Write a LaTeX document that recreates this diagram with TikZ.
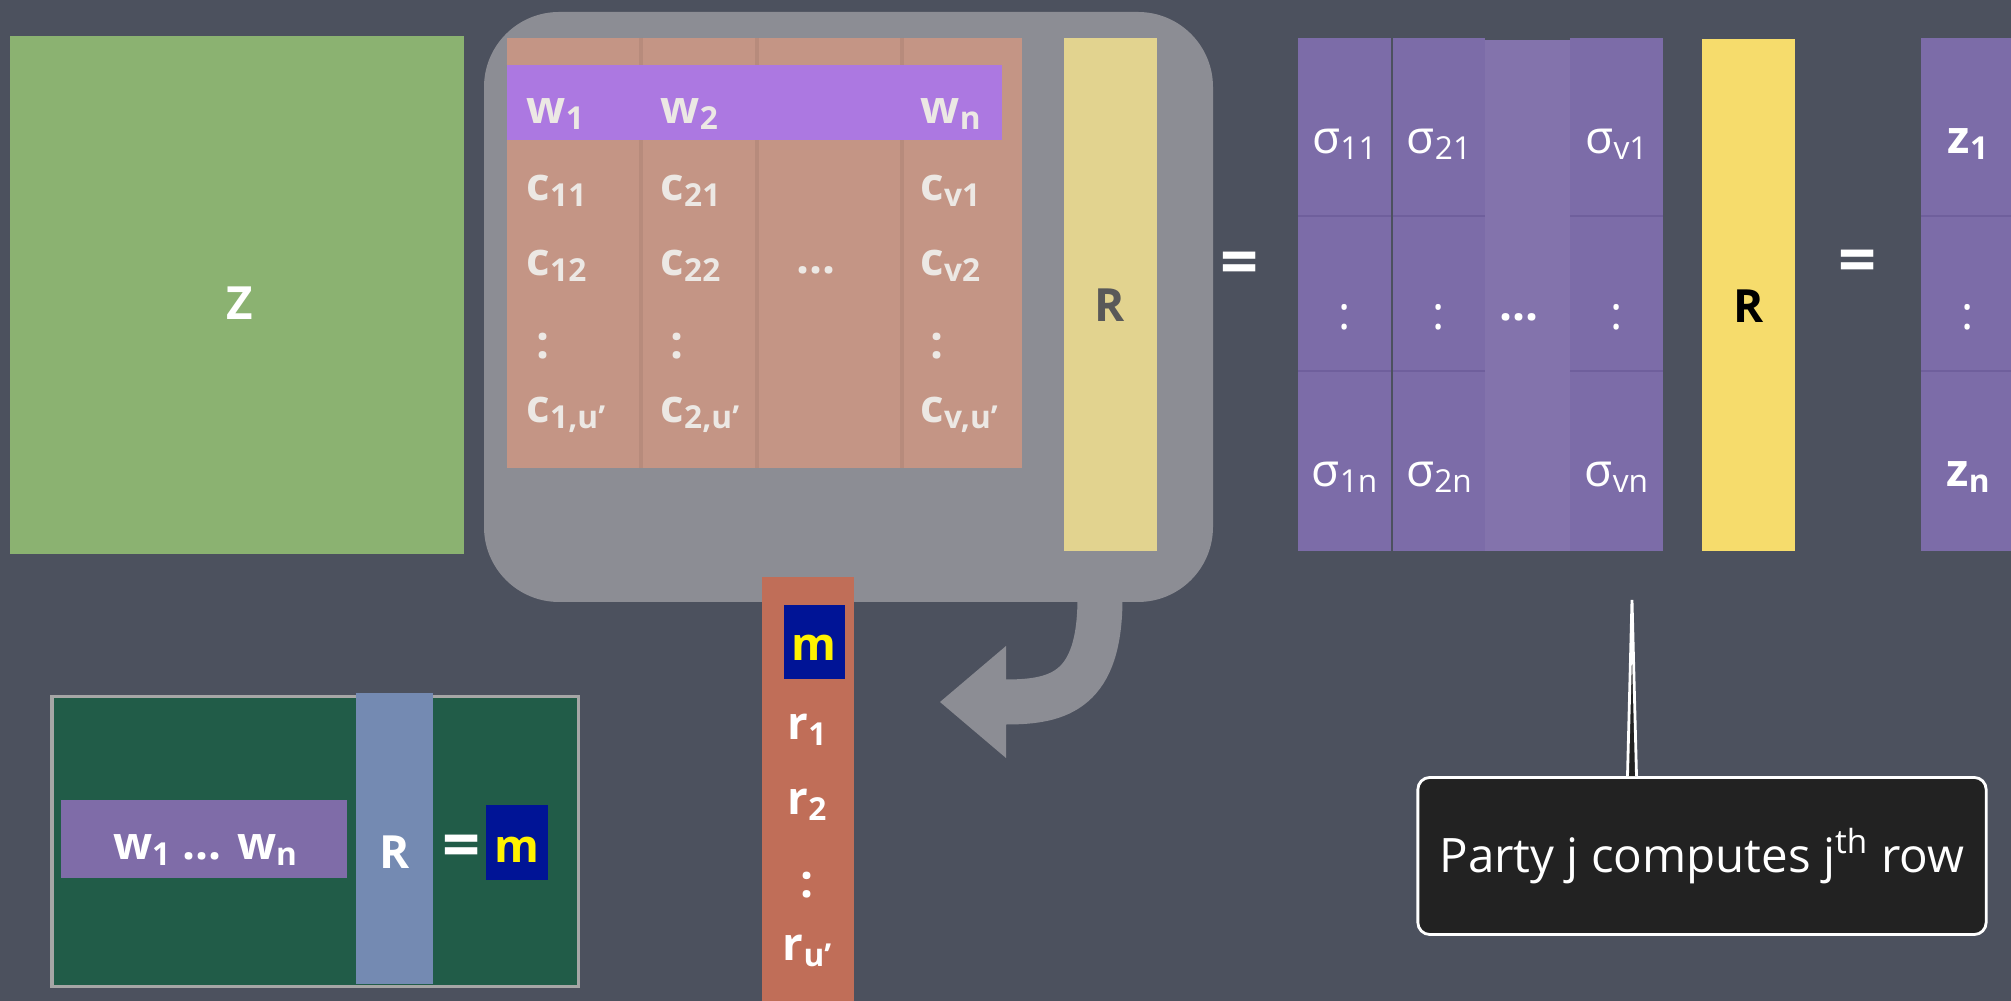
\documentclass[tikz,border=0pt]{standalone}
\usepackage{fontspec}
\setmainfont{Open Sans}
\usetikzlibrary{positioning,arrows.meta}

\definecolor{board}{HTML}{4C515E}
\definecolor{hilite}{HTML}{8C8D94}
\definecolor{zgreen}{HTML}{8BB271}
\definecolor{salmon}{HTML}{C49585}
\definecolor{wrow}{HTML}{AC78E1}
\definecolor{paleR}{HTML}{E2D38F}
\definecolor{sigpurple}{HTML}{7C6CA8}
\definecolor{sigdark}{HTML}{6F5F9C}
\definecolor{yelR}{HTML}{F6DC6C}
\definecolor{rcol}{HTML}{C06E58}
\definecolor{mblue}{HTML}{001496}
\definecolor{dkgreen}{HTML}{215C48}
\definecolor{blueR}{HTML}{748AB2}
\definecolor{wpurple}{HTML}{7F6CA8}
\definecolor{chalk}{HTML}{ECE8E4}
\definecolor{notefill}{HTML}{222222}

\newcommand{\ind}[2]{#1\raisebox{-0.25ex}{\fontsize{9}{9}\selectfont #2}}

\begin{document}
\begin{tikzpicture}[x=0.01cm, y=-0.01cm,
    lbl/.style={inner sep=0pt, text=white, font=\fontsize{13}{15}\selectfont\bfseries},
    clbl/.style={lbl, text=chalk, anchor=west},
    slbl/.style={inner sep=0pt, text=white, font=\fontsize{13}{15}\selectfont},
    eqs/.style={lbl, font=\fontsize{19}{21}\selectfont\bfseries},
    mlbl/.style={lbl, text=yellow},
    arrowstroke/.style={draw=hilite, line width=0.45cm,
        -{Triangle[length=0.66cm, width=1.12cm, line width=0pt]}},
    notebox/.style={draw=white, line width=0.8pt, fill=notefill, rounded corners=0.12cm,
        minimum width=5.68cm, minimum height=1.57cm, text=white,
        font=\fontsize{13.5}{16}\selectfont}]

    % Board
    \useasboundingbox (0,0) rectangle (2011,1001);
    \fill[board] (0,0) rectangle (2011,1001);

    % Z
    \fill[zgreen] (10,36) rectangle (464,554);
    \node[lbl] (Z) at (240,303) {Z};

    % Highlight round the code matrix
    \fill[hilite, rounded corners=0.75cm] (484,12) rectangle (1213,602);
    \coordinate (arrtail) at (1100,598);
    \coordinate (arrtip) at (940,702);
    \draw[arrowstroke] (arrtail) .. controls (1100,690) and (1060,702) .. (arrtip);

    % Code matrix
    \fill[salmon] (507,38) rectangle (1022,468);
    \foreach \x in {641,757,902}
        \draw[salmon!75!black, opacity=0.25, line width=1.2pt] (\x,38) -- (\x,468);
    \fill[wrow] (507,65) rectangle (1002,140);
    \foreach \x/\i in {526/1, 660/2, 920/n}
        \node[clbl, text=chalk] (w\i) at (\x,114) {\ind{w}{\i}};
    \foreach \x/\i in {526/1, 660/2, 920/v} {
        \node[clbl] (c\i a) at (\x,191) {\ind{c}{\i1}};
        \node[clbl] (c\i b) at (\x,266) {\ind{c}{\i2}};
        \node[clbl] (c\i dots) at (\x+10,346) {:};
        \node[clbl] (c\i u) at (\x,415) {\ind{c}{\i,u’}};
    }
    \node[lbl, text=chalk] (cdots) at (816,270) {...};

    % R inside highlight
    \fill[paleR] (1064,38) rectangle (1157,551);
    \node[lbl, text=black!65] (Rpale) at (1110,305) {R};
    \node[eqs] (eqa) at (1240,269) {=};

    % Sigma matrix
    \fill[sigpurple!95!white] (1480,40) rectangle (1575,551);
    \node[lbl] (sdots) at (1519,317) {...};
    \foreach \l/\r/\i in {1298/1391/1, 1393/1485/2, 1570/1663/v} {
        \fill[sigdark] (\l,38) rectangle (\r,551);
        \foreach \t/\b in {38/215, 217/370, 372/551}
            \fill[sigpurple] (\l,\t) rectangle (\r,\b);
        \node[slbl] (s\i a) at ({(\l+\r)/2},144) {\ind{σ}{\i1}};
        \node[slbl] (s\i dots) at ({(\l+\r)/2},317) {:};
        \node[slbl] (s\i n) at ({(\l+\r)/2},477) {\ind{σ}{\i n}};
    }

    % R and result
    \fill[yelR] (1702,39) rectangle (1795,551);
    \node[lbl, text=black] (R) at (1749,306) {R};
    \node[eqs] (eqb) at (1858,267) {=};
    \fill[sigdark] (1921,38) rectangle (2011,551);
    \foreach \t/\b in {38/215, 217/370, 372/551}
        \fill[sigpurple] (1921,\t) rectangle (2011,\b);
    \node[lbl] (z1) at (1968,144) {\ind{z}{1}};
    \node[slbl] (zdots) at (1968,317) {:};
    \node[lbl] (zn) at (1968,477) {\ind{z}{n}};

    % Random column
    \fill[rcol] (762,577) rectangle (854,1001);
    \fill[mblue] (784,605) rectangle (845,679);
    \node[mlbl] (mtop) at (814,648) {m};
    \node[lbl] (r1) at (807,730) {\ind{r}{1}};
    \node[lbl] (r2) at (807,805) {\ind{r}{2}};
    \node[lbl] (rdots) at (807,885) {:};
    \node[lbl] (ru) at (807,951) {\ind{r}{u’}};

    % Decoding
    \fill[dkgreen, draw=gray!70, line width=0.03cm] (52,697) rectangle (578,987);
    \fill[blueR] (356,693) rectangle (433,984);
    \node[lbl] (Rb) at (395,852) {R};
    \fill[wpurple] (61,800) rectangle (347,878);
    \node[lbl] (wrow) at (205,850) {\ind{w}{1} ... \ind{w}{n}};
    \node[eqs] (eqc) at (462,852) {=};
    \fill[mblue] (486,805) rectangle (548,880);
    \node[mlbl] (mbot) at (517,850) {m};

    % Note
    \node[notebox] (note) at (1702,856) {Party j computes j\textsuperscript{th} row};
    \coordinate (ptr) at (1632,600);
    \fill[notefill] ([xshift=-0.045cm]note.north -| ptr) -- (ptr)
        -- ([xshift=0.045cm]note.north -| ptr) -- cycle;
    \draw[white, line width=0.8pt] ([xshift=-0.045cm]note.north -| ptr) -- (ptr)
        -- ([xshift=0.045cm]note.north -| ptr);
\end{tikzpicture}
\end{document}
